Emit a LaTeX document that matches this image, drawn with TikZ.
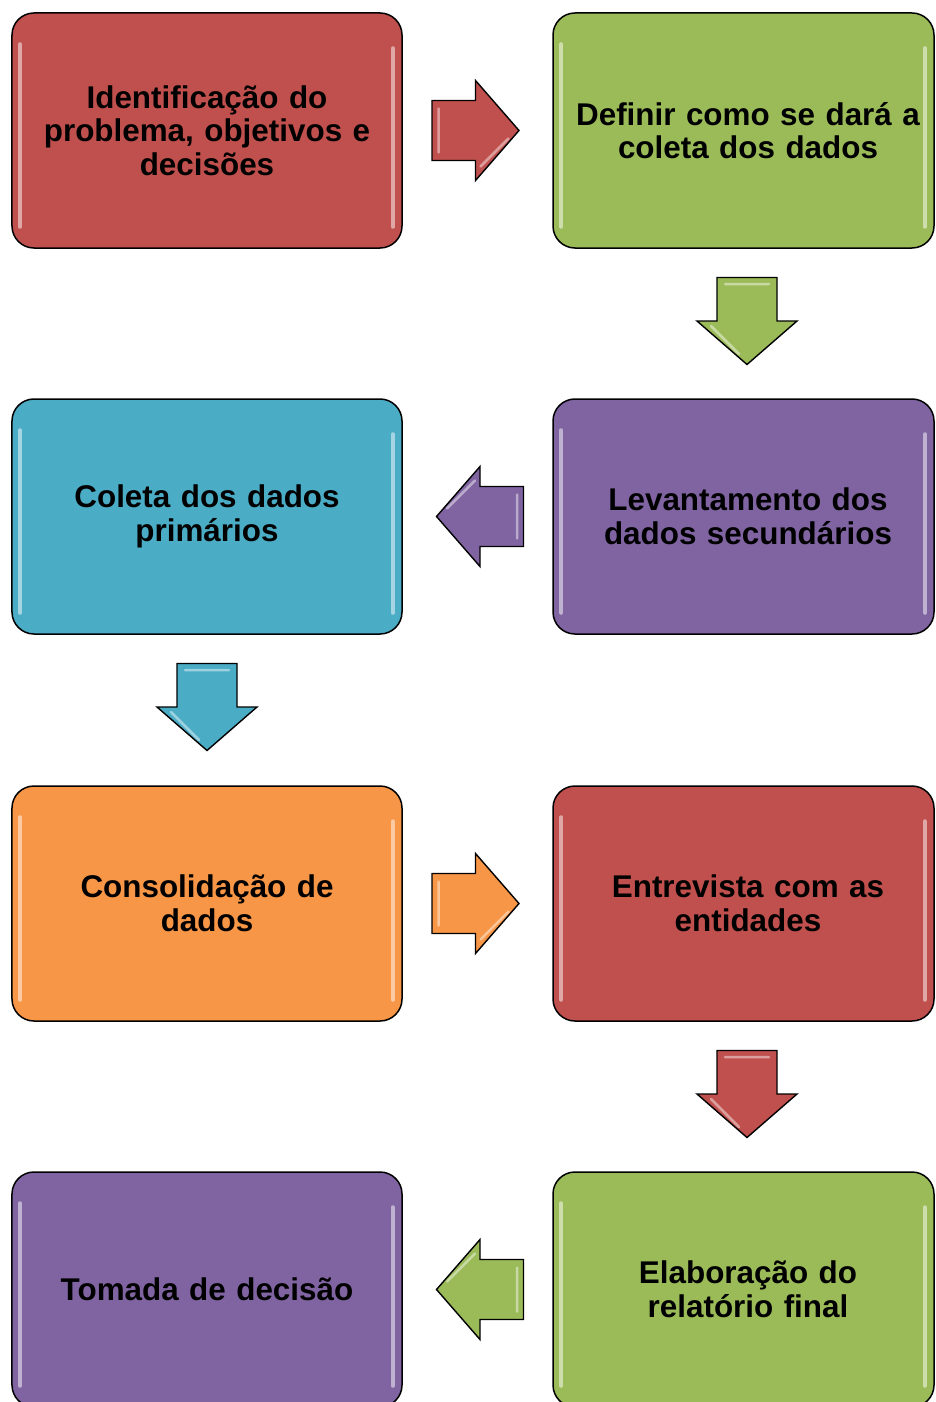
\documentclass[tikz,border=0pt]{standalone}
\usepackage{fontspec}
\setmainfont{Liberation Sans}
\usetikzlibrary{calc}
\definecolor{cred}{HTML}{C0504D}
\definecolor{cgreen}{HTML}{9BBB59}
\definecolor{cpurple}{HTML}{8064A2}
\definecolor{cblue}{HTML}{4BACC6}
\definecolor{corange}{HTML}{F79646}
\tikzset{
  x=1bp, y=1bp,
  box/.style={draw=black, line width=1.5bp, rounded corners=22bp,
    minimum height=235bp, inner sep=0pt},
  lbox/.style={box, minimum width=390bp},
  rbox/.style={box, minimum width=381bp},
  boxtext/.style={align=center, text width=385bp, inner sep=0pt,
    font=\fontsize{31.4bp}{33.5bp}\selectfont\bfseries},
  gloss/.style={white, opacity=0.5, line width=4bp, line cap=round},
  blockarrow/.pic={
    \path[draw=black, line width=1.4bp, line join=miter, fill=#1]
      (-43.5,30) -- (0,30) -- (0,50) -- (43.5,0) -- (0,-50) -- (0,-30) -- (-43.5,-30) -- cycle;
    \path[draw=white, opacity=0.45, line width=2.5bp, line cap=round]
      (-37,22) -- (-37,-22) (5,-36) -- (33,-8);
  },
}
\newcommand{\glossy}[1]{%
  \draw[gloss] ($(#1.north west)+(9,-32)$) -- ($(#1.south west)+(9,22)$);
  \draw[gloss] ($(#1.north east)+(-10,-36)$) -- ($(#1.south east)+(-10,22)$);
}
\begin{document}
\begin{tikzpicture}
\useasboundingbox (0,0) rectangle (935,-1402);
\clip (0,0) rectangle (935,-1402);

% boxes
\node[lbox, fill=cred]    (b1) at (207,-130.5) {};
\node[rbox, fill=cgreen]  (b2) at (743.5,-130.5) {};
\node[rbox, fill=cpurple] (b3) at (743.5,-516.5) {};
\node[lbox, fill=cblue]   (b4) at (207,-516.5) {};
\node[lbox, fill=corange] (b5) at (207,-903.5) {};
\node[rbox, fill=cred]    (b6) at (743.5,-903.5) {};
\node[rbox, fill=cgreen]  (b7) at (743.5,-1289.5) {};
\node[lbox, fill=cpurple] (b8) at (207,-1289.5) {};

\foreach \b in {b1,b2,b3,b4,b5,b6,b7,b8} {\glossy{\b}}

% texts
\node[boxtext] (t1) at (b1.center) {Identificação do\\problema, objetivos e\\decisões};
\node[boxtext] (t2) at ([xshift=4.5bp]b2.center) {Definir como se dará a\\coleta dos dados};
\node[boxtext] (t3) at ([xshift=4.5bp]b3.center) {Levantamento dos\\dados secundários};
\node[boxtext] (t4) at (b4.center) {Coleta dos dados\\primários};
\node[boxtext] (t5) at (b5.center) {Consolidação de\\dados};
\node[boxtext] (t6) at ([xshift=4.5bp]b6.center) {Entrevista com as\\entidades};
\node[boxtext] (t7) at ([xshift=4.5bp]b7.center) {Elaboração do\\relatório final};
\node[boxtext] (t8) at (b8.center) {Tomada de decisão};

% block arrows between boxes
\path ($(b1.east)!0.5!(b2.west)+(-2,0)$) pic {blockarrow=cred};
\path ($(b2.south)!0.5!(b3.north)+(3.5,2.5)$) pic[rotate=-90] {blockarrow=cgreen};
\path ($(b3.west)!0.5!(b4.east)+(2.5,0)$) pic[rotate=180] {blockarrow=cpurple};
\path ($(b4.south)!0.5!(b5.north)+(0,3)$) pic[rotate=-90] {blockarrow=cblue};
\path ($(b5.east)!0.5!(b6.west)+(-2,0)$) pic {blockarrow=corange};
\path ($(b6.south)!0.5!(b7.north)+(3.5,2.5)$) pic[rotate=-90] {blockarrow=cred};
\path ($(b7.west)!0.5!(b8.east)+(2.5,0)$) pic[rotate=180] {blockarrow=cgreen};
\end{tikzpicture}
\end{document}
